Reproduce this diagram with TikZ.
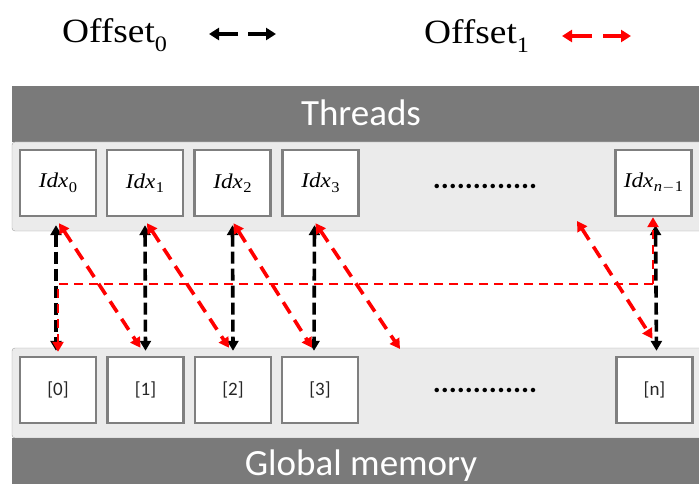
\documentclass[tikz,border=0pt]{standalone}
\usepackage{fix-cm}
\usepackage{fontspec}
\setmainfont{Liberation Serif}[FakeStretch=1.1]
\setsansfont{Carlito}
\usetikzlibrary{arrows.meta,calc}
\definecolor{barfill}{HTML}{7A7A7A}
\definecolor{panelfill}{HTML}{EBEBEB}
\definecolor{paneledge}{HTML}{A0A0A0}
\definecolor{boxedge}{HTML}{7F7F7F}
\definecolor{offred}{HTML}{FF0000}
% subscripts with fixed sizes
\newcommand{\idxname}[1]{\textit{Idx}\kern0.5pt\raisebox{-4.5pt}{\fontsize{15}{15}\selectfont #1}}
\newcommand{\offsub}[1]{\raisebox{-9pt}{\fontsize{22}{22}\selectfont #1}}
\tikzset{
  cell/.style={draw=boxedge, line width=2.4pt, fill=white, minimum width=76pt, minimum height=66pt, inner sep=0pt},
  idxlabel/.style={cell, font=\fontsize{21}{21}\selectfont},
  memlabel/.style={cell, font=\sffamily\fontsize{19}{19}\selectfont, text=black!85},
  bartext/.style={font=\sffamily\fontsize{37}{37}\selectfont, text=white, anchor=base, inner sep=0pt},
  dotrow/.style={font=\sffamily\bfseries\fontsize{30}{30}\selectfont, inner sep=0pt},
  legendtext/.style={font=\fontsize{34}{34}\selectfont, anchor=base west, inner sep=0pt},
  offzero/.style={black, line width=3.6pt, dash pattern=on 12pt off 5pt, {Triangle[length=10pt, width=11pt]}-{Triangle[length=10pt, width=11pt]}},
  offone/.style={offred, line width=3.6pt, dash pattern=on 13pt off 8pt, {Triangle[length=10pt, width=11pt]}-{Triangle[length=10pt, width=11pt]}},
  offonethin/.style={offred, line width=2.4pt, dash pattern=on 9pt off 6pt},
  legarrow/.style={line width=3.6pt, -{Triangle[length=10pt, width=12pt]}},
}
\begin{document}
\begin{tikzpicture}[x=1pt, y=-1pt]
\useasboundingbox (0,0) rectangle (699,484);
\clip (0,0) rectangle (699,484);

% legend
\node[legendtext] (leg0) at (62,43) {Offset\offsub{0}};
\node[legendtext] (leg1) at (424,44) {Offset\offsub{1}};
\coordinate (b0a) at (238,34); \coordinate (b0b) at (209,34);
\coordinate (b1a) at (248,34); \coordinate (b1b) at (276,34);
\draw[legarrow, black] (b0a) -- (b0b);
\draw[legarrow, black] (b1a) -- (b1b);
\coordinate (r0a) at (592,36); \coordinate (r0b) at (562,36);
\coordinate (r1a) at (603,36); \coordinate (r1b) at (631,36);
\draw[legarrow, offred] (r0a) -- (r0b);
\draw[legarrow, offred] (r1a) -- (r1b);

% threads band
\fill[barfill] (12,86) rectangle (712,142);
\draw[paneledge, fill=panelfill, rounded corners=3pt] (12,142) rectangle (712,231);
\node[bartext] (threads) at (361,126) {Threads};

% global memory band
\draw[paneledge, fill=panelfill, rounded corners=3pt] (12,348) rectangle (712,438);
\fill[barfill] (12,438) rectangle (712,492);
\node[bartext] (gmem) at (361,475) {Global memory};

% thread cells
\node[idxlabel] (t0) at (58,183) {\idxname{0}};
\node[idxlabel] (t1) at (145,183) {\idxname{1}};
\node[idxlabel] (t2) at (232.5,183) {\idxname{2}};
\node[idxlabel] (t3) at (320.5,183) {\idxname{3}};
\node[idxlabel] (tn) at (653.5,183) {\idxname{\textit{n}\kern0.5pt$-$\kern0.5pt1}};
\node[dotrow] (tdots) at (485,186) {.............};

% memory cells
\node[memlabel] (m0) at (58,390) {[0]};
\node[memlabel] (m1) at (145.5,390) {[1]};
\node[memlabel] (m2) at (233,390) {[2]};
\node[memlabel] (m3) at (320,390) {[3]};
\node[memlabel] (mn) at (654.5,390) {[n]};
\node[dotrow] (mdots) at (485,390) {.............};

% Offset_0: each thread reads the element right below it
\foreach \t/\m/\dx in {t0/m0/-2, t1/m1/0, t2/m2/0, t3/m3/-6, tn/mn/2} {
  \draw[offzero] ($(\t.south)+(\dx,8)$) -- ($(\m.north)+(\dx,-5)$);
}

% Offset_1: each thread reads the next element
\foreach \t/\m/\dxa/\dxb in {t0/m1/1/-5, t1/m2/2/-4, t2/m3/1/-8} {
  \draw[offone] ($(\t.south)+(\dxa,6)$) -- ($(\m.north)+(\dxb,-8)$);
}
\coordinate (t4stub) at (400,349);
\draw[offone] ($(t3.south)+(-5,6)$) -- (t4stub);
\coordinate (tkstub) at (577,221);
\draw[offone] (tkstub) -- ($(mn.north)+(-2,-17)$);

% last thread wraps around to element [0]
\coordinate (wrapr) at (653,284);
\coordinate (wrapl) at (58,284);
\draw[offonethin, -{Triangle[length=10pt, width=11pt]}] (wrapr) -- ($(tn.south)+(-0.5,0)$);
\draw[offonethin, -{Triangle[length=10pt, width=11pt]}] (wrapr) -- (wrapl) -- ($(m0.north)+(0,-4)$);
\end{tikzpicture}
\end{document}
